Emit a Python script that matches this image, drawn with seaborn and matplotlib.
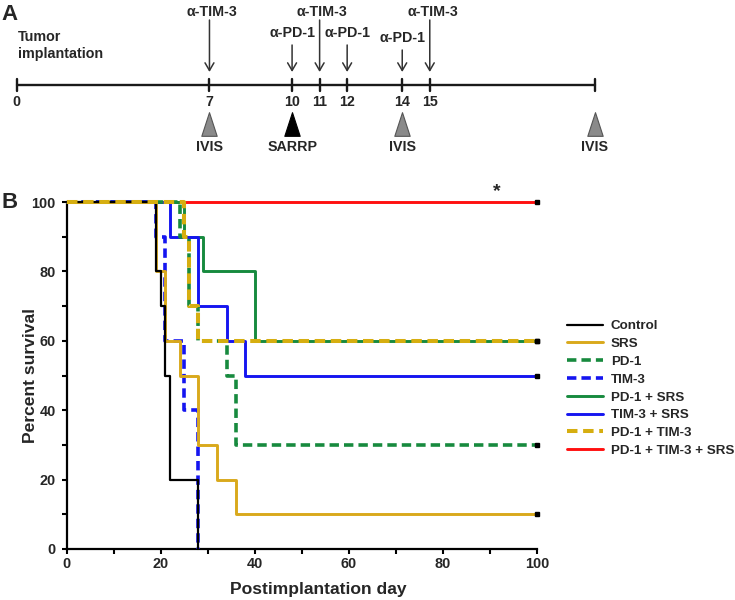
import numpy as np
import pandas as pd
import matplotlib
matplotlib.use("Agg")
import matplotlib.pyplot as plt
from matplotlib.path import Path
import seaborn as sns

# ---- panel A: treatment schedule ----
timeline_days = [0, 7, 10, 11, 12, 14, 15, 21]
timeline_labels = ["0", "7", "10", "11", "12", "14", "15", ""]
tim3_days = [7, 11, 15]
pd1_days = [10, 12, 14]
ivis_days = [7, 14, 21]
sarrp_days = [10]

# ---- panel B: Kaplan-Meier curves (day, percent survival) ----
groups = ["Control", "SRS", "PD-1", "TIM-3", "PD-1 + SRS", "TIM-3 + SRS",
          "PD-1 + TIM-3", "PD-1 + TIM-3 + SRS"]
control_day = [0, 19, 20, 21, 22, 28]
control_surv = [100, 80, 70, 50, 20, 0]
srs_day = [0, 19, 21, 24, 28, 32, 36, 100]
srs_surv = [100, 80, 60, 50, 30, 20, 10, 10]
pd1_day = [0, 24, 26, 28, 34, 36, 100]
pd1_surv = [100, 90, 70, 60, 50, 30, 30]
tim3_day = [0, 19, 21, 25, 28]
tim3_surv = [100, 90, 60, 40, 0]
pd1_srs_day = [0, 25, 29, 40, 100]
pd1_srs_surv = [100, 90, 80, 60, 60]
tim3_srs_day = [0, 22, 28, 34, 38, 100]
tim3_srs_surv = [100, 90, 70, 60, 50, 50]
pd1_tim3_day = [0, 25, 26, 28, 100]
pd1_tim3_surv = [100, 90, 70, 60, 60]
triple_day = [0, 100]
triple_surv = [100, 100]

curves = {
    "Control": (control_day, control_surv),
    "SRS": (srs_day, srs_surv),
    "PD-1": (pd1_day, pd1_surv),
    "TIM-3": (tim3_day, tim3_surv),
    "PD-1 + SRS": (pd1_srs_day, pd1_srs_surv),
    "TIM-3 + SRS": (tim3_srs_day, tim3_srs_surv),
    "PD-1 + TIM-3": (pd1_tim3_day, pd1_tim3_surv),
    "PD-1 + TIM-3 + SRS": (triple_day, triple_surv),
}

dash = (0, (2.6, 1.4))
styles = {
    "Control": dict(color="black", lw=1.6, ls="-", z=6),
    "SRS": dict(color="#D9A91C", lw=2.1, ls="-", z=5),
    "PD-1": dict(color="#178A3E", lw=2.6, ls=dash, z=4),
    "TIM-3": dict(color="#1515F0", lw=2.6, ls=dash, z=4),
    "PD-1 + SRS": dict(color="#178A3E", lw=2.1, ls="-", z=3),
    "TIM-3 + SRS": dict(color="#1515F0", lw=2.1, ls="-", z=3),
    "PD-1 + TIM-3": dict(color="#D6AE10", lw=2.9, ls=dash, z=7),
    "PD-1 + TIM-3 + SRS": dict(color="#FF1010", lw=2.1, ls="-", z=2),
}

sns.set_style("ticks")
plt.rcParams["font.family"] = ["Liberation Sans", "DejaVu Sans"]
plt.rcParams["font.weight"] = "bold"

W, H = 735, 600
FS_A = 10.3
fig = plt.figure(figsize=(W / 100, H / 100), dpi=100)

# ---------- panel A ----------
axA = fig.add_axes([0, 1 - 170 / H, 1, 170 / H])
px_per_day = (595 - 16.7) / 21
axA.set_xlim(-16.7 / px_per_day, (W - 16.7) / px_per_day)
axA.set_ylim(170, 0)
axA.axis("off")

axA.plot([timeline_days[0], timeline_days[-1]], [85, 85], color="#1a1a1a", lw=1.7)
for d, lab in zip(timeline_days, timeline_labels):
    axA.plot([d, d], [79, 91], color="#1a1a1a", lw=1.7)
    axA.text(d, 102, lab, ha="center", va="center", fontsize=FS_A, fontweight="bold")

arrow = dict(arrowstyle="->,head_length=0.55,head_width=0.32", color="#333",
             lw=1.1, mutation_scale=10, shrinkA=0, shrinkB=0)
for d in tim3_days:
    axA.annotate("", xy=(d, 72), xytext=(d, 20), arrowprops=arrow)
    axA.text(d + 0.1, 11.5, "α-TIM-3", ha="center", va="center", fontsize=FS_A,
             fontweight="bold")
for d in pd1_days:
    top = 50 if d == 14 else 45
    axA.annotate("", xy=(d, 72), xytext=(d, top), arrowprops=arrow)
    axA.text(d, top - 12, "α-PD-1", ha="center", va="center", fontsize=FS_A,
             fontweight="bold")

tri = Path([(-0.65, -1), (0.65, -1), (0, 1), (-0.65, -1)],
           [Path.MOVETO, Path.LINETO, Path.LINETO, Path.CLOSEPOLY])
axA.scatter(ivis_days, [123.5] * len(ivis_days), marker=tri, s=290,
            facecolor="#8a8a8a", edgecolor="#555", linewidth=0.8)
axA.scatter(sarrp_days, [123.5] * len(sarrp_days), marker=tri, s=290,
            facecolor="black", edgecolor="black", linewidth=0.8)
for d in ivis_days:
    axA.text(d, 147, "IVIS", ha="center", va="center", fontsize=FS_A, fontweight="bold")
for d in sarrp_days:
    axA.text(d, 147, "SARRP", ha="center", va="center", fontsize=FS_A, fontweight="bold")
axA.text(0.05, 45.5, "Tumor\nimplantation", ha="left", va="center", fontsize=FS_A,
         fontweight="bold", linespacing=1.2)

fig.text(9.5 / W, 1 - 14 / H, "A", fontsize=16, fontweight="bold", ha="center", va="center")
fig.text(10 / W, 1 - 202 / H, "B", fontsize=16, fontweight="bold", ha="center", va="center")

# ---------- panel B ----------
axB = fig.add_axes([66.7 / W, 1 - 549 / H, (537 - 66.7) / W, (549 - 202) / H])
handles = {}
for g in groups:
    d, s = curves[g]
    st = styles[g]
    sns.lineplot(x=d, y=s, ax=axB, color=st["color"], linewidth=st["lw"],
                 linestyle=st["ls"], drawstyle="steps-post", estimator=None,
                 sort=False, label=g, zorder=st["z"], clip_on=False)
    handles[g] = axB.get_lines()[-1]

# censor marks at end of follow-up
end_surv = [curves[g][1][-1] for g in groups if curves[g][1][-1] > 0]
axB.plot([100] * len(end_surv), end_surv, ls="none", marker="s", ms=2.5,
         color="black", zorder=10, clip_on=False)

axB.text(91.4, 103, "*", ha="center", va="center", fontsize=14, fontweight="bold")

axB.set_xlim(0, 100)
axB.set_ylim(0, 100)
axB.set_xticks(np.arange(0, 101, 20))
axB.set_yticks(np.arange(0, 101, 20))
axB.set_xticks(np.arange(10, 100, 20), minor=True)
axB.set_yticks(np.arange(10, 100, 20), minor=True)
sns.despine(ax=axB)
for sp in ["left", "bottom"]:
    axB.spines[sp].set_linewidth(1.6)
    axB.spines[sp].set_color("black")
axB.tick_params(axis="both", which="both", length=3.5, width=1.5, color="black",
                labelsize=10.4)
axB.tick_params(axis="x", which="major", pad=2)
axB.tick_params(axis="y", which="major", pad=4.5)
for t in axB.get_xticklabels() + axB.get_yticklabels():
    t.set_fontweight("bold")

axB.set_xlabel("Postimplantation day", fontsize=12.6, fontweight="bold")
axB.set_ylabel("Percent survival", fontsize=12.6, fontweight="bold")
axB.xaxis.set_label_coords(0.535, -0.095)
axB.yaxis.set_label_coords(-0.062, 0.5)

if axB.get_legend() is not None:
    axB.get_legend().remove()
fig.legend([handles[g] for g in groups], groups, loc="upper left",
           bbox_to_anchor=(566.7 / W, 1 - 320 / H), frameon=False,
           prop=dict(size=9.6, weight="bold"), handlelength=2.7,
           handletextpad=0.62, labelspacing=0.41, borderpad=0, borderaxespad=0)

fig.savefig("out.png", dpi=100)
